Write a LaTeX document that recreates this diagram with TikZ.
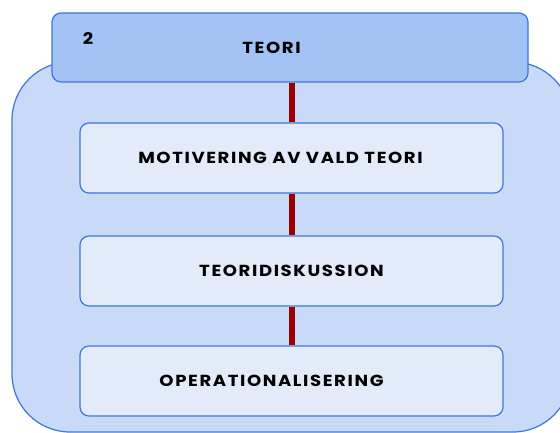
\documentclass[tikz,border=0pt]{standalone}
\usepackage{fontspec}
\setmainfont{Poppins}
\newfontfamily\lblfont[LetterSpace=10,FakeStretch=1.13]{Poppins}
\definecolor{outerfill}{HTML}{C9DAF8}
\definecolor{headfill}{HTML}{A4C2F4}
\definecolor{boxfill}{HTML}{E3EBFA}
\definecolor{edge}{HTML}{3C78D8}
\definecolor{link}{HTML}{990000}
\begin{document}
\begin{tikzpicture}[x=1pt,y=1pt,
  lbl/.style={font=\lblfont\fontsize{16}{18}\selectfont\bfseries},
  stepbox/.style={lbl,draw=edge,line width=1.2pt,fill=boxfill,rounded corners=9pt,minimum width=423pt,minimum height=70pt,inner sep=0pt},
  headbox/.style={draw=edge,line width=1.2pt,fill=headfill,rounded corners=9pt,minimum width=476pt,minimum height=69pt,inner sep=0pt},
  linkline/.style={draw=link,line width=6pt}]
\useasboundingbox (0,0) rectangle (560,432);
\draw[draw=edge,line width=1.2pt,fill=outerfill,rounded corners=58pt] (12,0) rectangle (571,370);
\node[headbox] (head) at (290,384.5) {};
\node[lbl] (teori) at (271.5,384) {TEORI};
\node[lbl] (num) at (88,393) {2};
\node[stepbox] (b1) at (291.5,274) {\hspace*{-22pt}MOTIVERING AV VALD TEORI};
\node[stepbox] (b2) at (291.5,161) {TEORIDISKUSSION};
\node[stepbox] (b3) at (291.5,51) {\hspace*{-40pt}OPERATIONALISERING};
\draw[linkline] (head.south -| 292,0) -- (b1.north -| 292,0);
\draw[linkline] (b1.south -| 292,0) -- (b2.north -| 292,0);
\draw[linkline] (b2.south -| 292,0) -- (b3.north -| 292,0);
\end{tikzpicture}
\end{document}
